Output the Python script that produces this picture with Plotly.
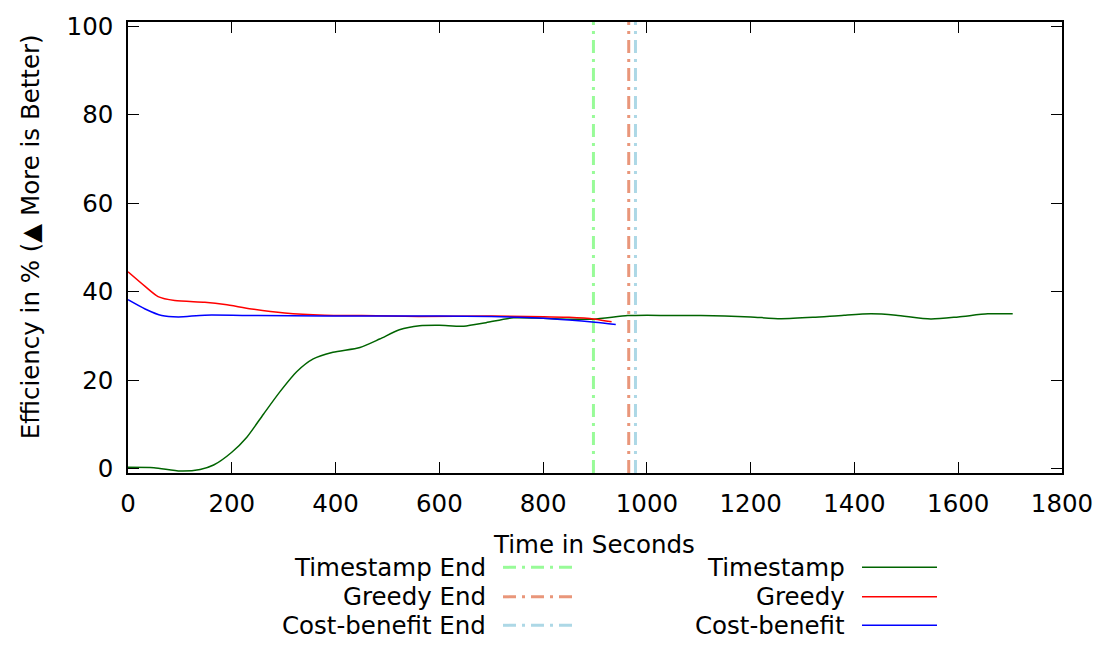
import plotly.graph_objects as go

# Efficiency over time for three cleaning policies
time_timestamp = [0, 50, 101, 139, 165, 200, 229, 261, 293, 325, 357, 395, 447, 485, 523, 562,
                  600, 647, 690, 743, 800, 850, 897, 963, 1000, 1065, 1104, 1150, 1200, 1258,
                  1320, 1380, 1432, 1480, 1547, 1600, 1657, 1705]
eff_timestamp = [0.3, 0.2, -0.55, -0.2, 0.8, 3.7, 7.1, 12.3, 17.4, 21.9, 24.8, 26.3, 27.4, 29.3,
                 31.4, 32.3, 32.4, 32.2, 33.0, 34.1, 34.0, 33.8, 33.8, 34.6, 34.7, 34.6, 34.6,
                 34.5, 34.3, 33.9, 34.2, 34.7, 35.0, 34.7, 33.85, 34.3, 35.0, 35.0]

time_greedy = [0, 33, 58, 90, 148, 187, 238, 302, 379, 450, 560, 700, 850, 900, 932]
eff_greedy = [44.5, 41.2, 38.9, 38.0, 37.6, 37.1, 36.1, 35.2, 34.7, 34.6, 34.4, 34.5, 34.2, 33.8, 33.2]

time_costbenefit = [0, 33, 65, 97, 148, 251, 379, 500, 600, 700, 800, 850, 900, 940]
eff_costbenefit = [38.2, 36.1, 34.6, 34.3, 34.7, 34.6, 34.5, 34.5, 34.5, 34.4, 34.0, 33.6, 33.1, 32.6]

# End-of-run markers (seconds)
end_timestamp = 897
end_greedy = 965
end_costbenefit = 978

x_ticks = [0, 200, 400, 600, 800, 1000, 1200, 1400, 1600, 1800]
y_ticks = [0, 20, 40, 60, 80, 100]

FONT = "DejaVu Sans"
FS = 24.5
DASHDOT = "13px,6px,3px,6px"

C_TS, C_GR, C_CB = "#006400", "#ff0000", "#0000ff"
C_TS_END, C_GR_END, C_CB_END = "#98fb98", "#e9967a", "#add8e6"

W, H = 1107, 646
L, R, T, B = 128, 45, 14, 173
PW, PH = W - L - R, H - T - B


def px(x):
    return (x - L) / PW


def py(y):
    return (H - B - y) / PH


fig = go.Figure()

for xe, col in [(end_timestamp, C_TS_END), (end_greedy, C_GR_END), (end_costbenefit, C_CB_END)]:
    fig.add_trace(go.Scatter(x=[xe, xe], y=[-1, 101], mode="lines",
                             line=dict(color=col, width=3, dash=DASHDOT),
                             showlegend=False, hoverinfo="skip"))

for xs, ys, col in [(time_timestamp, eff_timestamp, C_TS),
                    (time_greedy, eff_greedy, C_GR),
                    (time_costbenefit, eff_costbenefit, C_CB)]:
    fig.add_trace(go.Scatter(x=xs, y=ys, mode="lines",
                             line=dict(color=col, width=1.5, shape="spline", smoothing=0.7),
                             showlegend=False))

axis_common = dict(showline=True, linecolor="black", linewidth=1.5, mirror="ticks",
                   ticks="inside", ticklen=11, tickwidth=1.2, tickcolor="black",
                   showgrid=False, zeroline=False, ticklabelstandoff=8,
                   tickfont=dict(family=FONT, size=FS, color="black"))

fig.update_xaxes(range=[0, 1800], tickvals=x_ticks, **axis_common)
fig.update_yaxes(range=[-1, 101], tickvals=y_ticks, **axis_common)

annotations = [
    dict(x=px(594), y=py(546), xref="paper", yref="paper", text="Time in Seconds",
         showarrow=False, font=dict(family=FONT, size=FS, color="black"),
         xanchor="center", yanchor="middle"),
    dict(x=px(30), y=py(233), xref="paper", yref="paper",
         text="Efficiency in % (\u25b2 More is Better)", textangle=-90,
         showarrow=False, font=dict(family=FONT, size=FS, color="black"),
         xanchor="center", yanchor="middle"),
]

shapes = []
legend_rows = [569, 599, 628]
left_items = [("Timestamp End", C_TS_END, 3, DASHDOT),
              ("Greedy End", C_GR_END, 3, DASHDOT),
              ("Cost-benefit End", C_CB_END, 3, DASHDOT)]
right_items = [("Timestamp", C_TS, 1.5, "solid"),
               ("Greedy", C_GR, 1.5, "solid"),
               ("Cost-benefit", C_CB, 1.5, "solid")]

for items, text_right, line_x0, line_x1 in [(left_items, 488, 503, 578),
                                            (right_items, 847, 862, 937)]:
    for (label, col, lw, dash), yrow in zip(items, legend_rows):
        annotations.append(dict(x=px(text_right), y=py(yrow), xref="paper", yref="paper",
                                text=label, showarrow=False,
                                font=dict(family=FONT, size=FS, color="black"),
                                xanchor="right", yanchor="middle"))
        shapes.append(dict(type="line", xref="paper", yref="paper",
                           x0=px(line_x0), x1=px(line_x1), y0=py(yrow), y1=py(yrow),
                           line=dict(color=col, width=lw, dash=dash)))

fig.update_layout(width=W, height=H, margin=dict(l=L, r=R, t=T, b=B),
                  paper_bgcolor="white", plot_bgcolor="white",
                  annotations=annotations, shapes=shapes,
                  font=dict(family=FONT, size=FS, color="black"))

fig.write_html("out.html")
